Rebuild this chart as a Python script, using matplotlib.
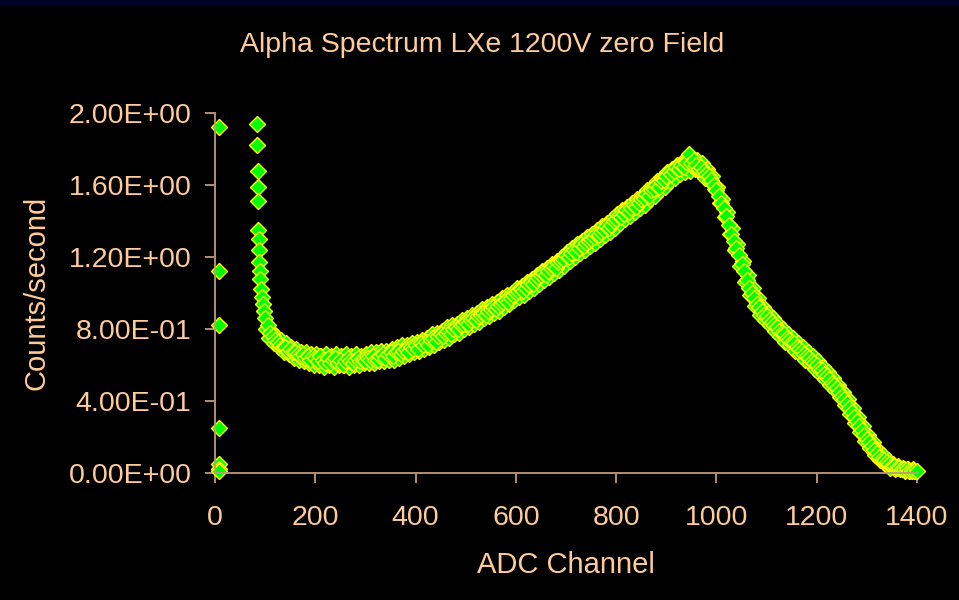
import numpy as np
import matplotlib
matplotlib.use("Agg")
import matplotlib.pyplot as plt
from matplotlib.patches import Rectangle
from matplotlib.ticker import FuncFormatter

# points near channel 0 (pedestal)
early_ch = [8, 8, 8, 8, 8, 7, 8]
early_val = [1.92, 1.12, 0.82, 0.25, 0.05, 0.02, 0.01]

# steep spike just below channel 100
spike_ch = [84, 84, 85, 85, 86, 86, 87, 87, 88, 89, 90, 91, 93, 95, 97]
spike_val = [1.94, 1.82, 1.68, 1.59, 1.51, 1.35, 1.30, 1.24, 1.17, 1.12,
             1.08, 1.02, 0.98, 0.94, 0.90]

# main spectrum, channels 100..1400 in steps of 5
channel = np.arange(100, 1405, 5)
counts = [
    0.86, 0.82, 0.78, 0.76, 0.74, 0.73, 0.71, 0.70, 0.70, 0.68, 0.69, 0.67, 0.67, 0.66, 0.65, 0.66, 0.64, 0.65, 0.63, 0.65,
    0.64, 0.62, 0.65, 0.63, 0.61, 0.64, 0.61, 0.63, 0.64, 0.61, 0.63, 0.60, 0.62, 0.64, 0.62, 0.61, 0.63, 0.64, 0.62, 0.63,
    0.62, 0.64, 0.63, 0.65, 0.63, 0.63, 0.65, 0.66, 0.64, 0.66, 0.67, 0.65, 0.67, 0.68, 0.66, 0.68, 0.69, 0.67, 0.70, 0.69,
    0.71, 0.69, 0.72, 0.71, 0.73, 0.71, 0.74, 0.75, 0.73, 0.76, 0.77, 0.76, 0.78, 0.79, 0.77, 0.80, 0.81, 0.80, 0.82, 0.83,
    0.84, 0.83, 0.85, 0.86, 0.85, 0.87, 0.88, 0.89, 0.88, 0.90, 0.91, 0.92, 0.91, 0.93, 0.94, 0.95, 0.96, 0.95, 0.97, 0.99,
    1.00, 1.01, 1.02, 1.01, 1.03, 1.05, 1.06, 1.05, 1.07, 1.09, 1.10, 1.11, 1.10, 1.12, 1.14, 1.15, 1.14, 1.17, 1.18, 1.19,
    1.21, 1.20, 1.22, 1.24, 1.23, 1.25, 1.27, 1.26, 1.28, 1.29, 1.30, 1.31, 1.33, 1.32, 1.34, 1.35, 1.37, 1.36, 1.38, 1.40,
    1.41, 1.43, 1.42, 1.44, 1.46, 1.45, 1.47, 1.49, 1.48, 1.50, 1.52, 1.53, 1.55, 1.54, 1.57, 1.58, 1.60, 1.59, 1.62, 1.63,
    1.65, 1.67, 1.66, 1.68, 1.70, 1.69, 1.71, 1.70, 1.73, 1.77, 1.72, 1.74, 1.71, 1.69, 1.70, 1.68, 1.66, 1.65, 1.63, 1.60,
    1.57, 1.54, 1.50, 1.47, 1.43, 1.38, 1.33, 1.29, 1.25, 1.21, 1.16, 1.12, 1.07, 1.03, 1.00, 0.97, 0.94, 0.92, 0.90, 0.88,
    0.87, 0.85, 0.84, 0.82, 0.81, 0.79, 0.78, 0.77, 0.75, 0.74, 0.73, 0.72, 0.70, 0.69, 0.68, 0.66, 0.65, 0.64, 0.62, 0.61,
    0.60, 0.58, 0.57, 0.55, 0.54, 0.52, 0.50, 0.49, 0.47, 0.45, 0.43, 0.41, 0.39, 0.36, 0.34, 0.31, 0.29, 0.26, 0.24, 0.21,
    0.19, 0.17, 0.15, 0.13, 0.11, 0.09, 0.08, 0.07, 0.06, 0.05, 0.04, 0.04, 0.03, 0.03, 0.02, 0.02, 0.02, 0.01, 0.01, 0.01,
    0.01,
]

# in-between channels (102..1397), the scatter that makes the band thick
channel_b = np.arange(102, 1400, 5)
counts_b = [
    0.80, 0.75, 0.79, 0.72, 0.76, 0.70, 0.74, 0.67, 0.72, 0.66, 0.70, 0.64, 0.69, 0.63, 0.67, 0.62, 0.67, 0.61, 0.66, 0.60,
    0.66, 0.60, 0.65, 0.59, 0.66, 0.60, 0.65, 0.59, 0.66, 0.60, 0.65, 0.60, 0.66, 0.59, 0.65, 0.60, 0.66, 0.60, 0.65, 0.61,
    0.66, 0.61, 0.67, 0.61, 0.67, 0.62, 0.68, 0.62, 0.68, 0.63, 0.69, 0.63, 0.70, 0.64, 0.71, 0.65, 0.71, 0.66, 0.72, 0.67,
    0.73, 0.68, 0.74, 0.69, 0.75, 0.70, 0.77, 0.71, 0.78, 0.73, 0.79, 0.74, 0.81, 0.75, 0.82, 0.77, 0.83, 0.78, 0.85, 0.80,
    0.86, 0.81, 0.88, 0.83, 0.89, 0.84, 0.91, 0.86, 0.92, 0.87, 0.94, 0.89, 0.95, 0.90, 0.97, 0.92, 0.99, 0.94, 1.00, 0.96,
    1.03, 0.98, 1.04, 0.99, 1.06, 1.01, 1.08, 1.03, 1.10, 1.05, 1.12, 1.07, 1.14, 1.09, 1.16, 1.11, 1.18, 1.13, 1.20, 1.15,
    1.23, 1.18, 1.25, 1.20, 1.27, 1.22, 1.29, 1.24, 1.31, 1.26, 1.33, 1.28, 1.35, 1.30, 1.37, 1.32, 1.39, 1.34, 1.41, 1.36,
    1.44, 1.39, 1.46, 1.41, 1.48, 1.43, 1.50, 1.45, 1.52, 1.47, 1.54, 1.49, 1.57, 1.52, 1.59, 1.54, 1.62, 1.57, 1.64, 1.59,
    1.67, 1.62, 1.69, 1.64, 1.71, 1.66, 1.73, 1.67, 1.74, 1.68, 1.75, 1.69, 1.74, 1.67, 1.72, 1.64, 1.69, 1.62, 1.65, 1.58,
    1.59, 1.50, 1.52, 1.42, 1.45, 1.33, 1.36, 1.24, 1.27, 1.15, 1.18, 1.06, 1.10, 0.99, 1.03, 0.93, 0.97, 0.88, 0.92, 0.85,
    0.89, 0.82, 0.86, 0.79, 0.83, 0.76, 0.80, 0.73, 0.77, 0.71, 0.75, 0.68, 0.72, 0.66, 0.70, 0.63, 0.67, 0.61, 0.65, 0.58,
    0.62, 0.55, 0.59, 0.52, 0.56, 0.49, 0.53, 0.46, 0.49, 0.42, 0.45, 0.38, 0.41, 0.33, 0.36, 0.28, 0.31, 0.23, 0.26, 0.18,
    0.21, 0.14, 0.17, 0.10, 0.13, 0.07, 0.10, 0.05, 0.07, 0.03, 0.05, 0.02, 0.04, 0.02, 0.03, 0.01, 0.02, 0.01, 0.02, 0.01,
]

xticks = [0, 200, 400, 600, 800, 1000, 1200, 1400]
yticks = [0.0, 0.4, 0.8, 1.2, 1.6, 2.0]

text_col = '#FFCC99'
axis_col = '#C09A78'

plt.rcParams['font.family'] = ['Liberation Sans', 'DejaVu Sans']

fig = plt.figure(figsize=(9.59, 6.0), dpi=100, facecolor='black')
fig.patches.append(Rectangle((0, 1 - 5 / 600), 1, 5 / 600, transform=fig.transFigure,
                             facecolor='#000028', edgecolor='none'))
ax = fig.add_axes([215 / 959, 127 / 600, 702 / 959, 360 / 600], facecolor='black')

mk = dict(marker='D', ms=8, mfc='#00FF00', mec='#FFFF00', mew=1.0,
          linestyle='none', clip_on=False)
ax.plot(early_ch, early_val, **mk)
ax.plot(spike_ch, spike_val, **mk)
ax.plot(channel_b, counts_b, **mk)
ax.plot(channel, counts, **mk)

ax.set_xlim(0, 1400)
ax.set_ylim(0, 2.0)
ax.set_xticks(xticks)
ax.set_yticks(yticks)
ax.yaxis.set_major_formatter(FuncFormatter(lambda v, p: '{:.2E}'.format(v)))

for s in ['top', 'right']:
    ax.spines[s].set_visible(False)
for s in ['left', 'bottom']:
    ax.spines[s].set_color(axis_col)
    ax.spines[s].set_linewidth(1.3)
ax.tick_params(colors=axis_col, labelcolor=text_col, labelsize=20.5, length=7, width=1.3)
ax.tick_params(axis='y', pad=10)
ax.tick_params(axis='x', pad=16)

fig.text(482 / 959, 1 - 45 / 600, 'Alpha Spectrum LXe 1200V zero Field', color=text_col,
         fontsize=20.5, ha='center', va='center')
ax.set_xlabel('ADC Channel', color=text_col, fontsize=21, va='center')
ax.xaxis.set_label_coords(0.5, (473 - 565) / 360)
ax.set_ylabel('Counts/second', color=text_col, fontsize=21, va='center')
ax.yaxis.set_label_coords((37 - 215) / 702, 0.5)

fig.savefig('out.png', dpi=100, facecolor='black')
